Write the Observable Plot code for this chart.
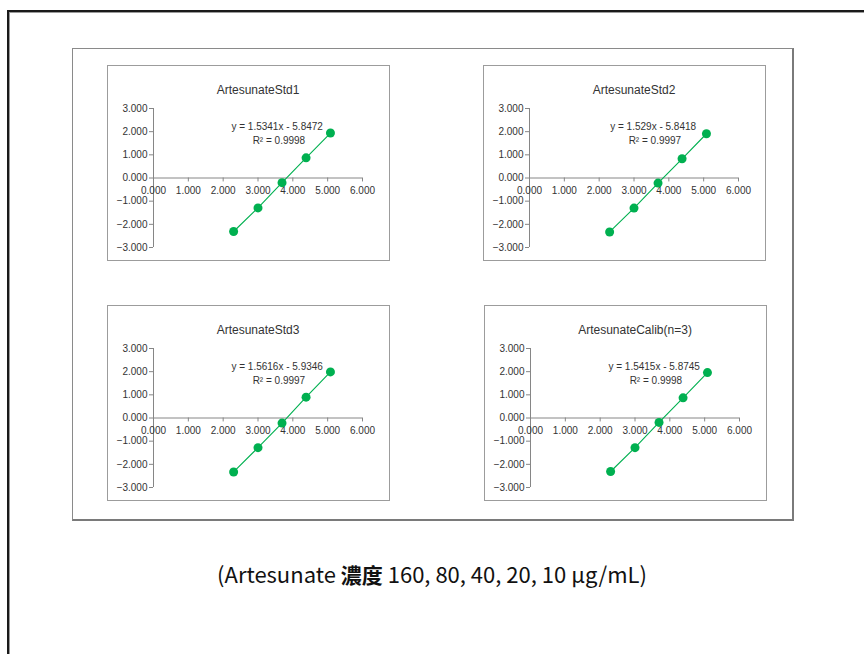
<!DOCTYPE html>
<html><head><meta charset="utf-8">
<script src="https://cdn.jsdelivr.net/npm/d3@7"></script>
<script src="https://cdn.jsdelivr.net/npm/@observablehq/plot@0.6"></script>
<style>
body{margin:0;background:#fff;width:864px;height:654px;overflow:hidden;position:relative;font-family:"Liberation Sans",Arial,sans-serif}
#frame{position:absolute;left:7px;top:10px;width:900px;height:700px;border-left:2px solid #1a1a1a;border-top:2px solid #1a1a1a;box-shadow:inset 1px 1px 0 #9a9a9a}
#group{position:absolute;left:72px;top:48px;width:719px;height:470px;border:1px solid #8a8a8a;border-right:2px solid #7a7a7a;border-bottom:2px solid #7a7a7a;background:#fff}
.panel{position:absolute;box-sizing:border-box;width:283px;height:196px;border:1px solid #9c9c9c;background:#fff}
.panel svg{display:block}
#caption{position:absolute;left:0;width:864px;top:557px;text-align:center;font-size:22px;color:#111;font-family:"Noto Sans CJK TC",sans-serif;white-space:nowrap}
#caption b{font-weight:700;font-size:21px}
</style></head>
<body>
<div id="frame"></div>
<div id="group"></div>
<div id="caption"></div>
<script>
// ---- data ----
const logConc = [2.30, 3.00, 3.69, 4.38, 5.08];
const titles = ["ArtesunateStd1", "ArtesunateStd2", "ArtesunateStd3", "ArtesunateCalib(n=3)"];
const std1Y = [-2.31, -1.29, -0.20, 0.87, 1.94];
const std2Y = [-2.33, -1.30, -0.22, 0.83, 1.91];
const std3Y = [-2.33, -1.28, -0.22, 0.90, 1.99];
const calibY = [-2.31, -1.28, -0.19, 0.87, 1.96];
const equations = ["y = 1.5341x - 5.8472", "y = 1.529x - 5.8418", "y = 1.5616x - 5.9346", "y = 1.5415x - 5.8745"];
const r2Labels = ["R² = 0.9998", "R² = 0.9997", "R² = 0.9997", "R² = 0.9998"];
const xTicks = [0, 1, 2, 3, 4, 5, 6];
const yTicks = [-3, -2, -1, 0, 1, 2, 3];
const captionLatin = "(Artesunate ";
const captionCJK = "濃度";
const captionRest = " 160, 80, 40, 20, 10 μg/mL)";

// ---- layout ----
const seriesY = [std1Y, std2Y, std3Y, calibY];
const panelPos = [[107, 65], [483, 65], [107, 305], [484, 305]];
const fmt = d3.format(".3f");
const green = "#00B050";
const axisGray = "#868686";
const textCol = "#333333";

seriesY.forEach((ys, i) => {
  const data = logConc.map((x, j) => ({x, y: ys[j]}));
  const div = document.createElement("div");
  div.className = "panel";
  div.style.left = panelPos[i][0] + "px";
  div.style.top = panelPos[i][1] + "px";
  const chart = Plot.plot({
    width: 281, height: 194,
    marginLeft: 45, marginRight: 27, marginTop: 42, marginBottom: 13,
    x: {domain: [0, 6], axis: null},
    y: {domain: [-3, 3], axis: null},
    style: {fontFamily: "'Liberation Sans', Arial, sans-serif", fontSize: "10px", color: textCol, background: "#fff"},
    marks: [
      Plot.ruleX([0], {stroke: axisGray, strokeWidth: 1}),
      Plot.ruleY([0], {stroke: axisGray, strokeWidth: 1}),
      Plot.axisY({ticks: yTicks, tickFormat: fmt, tickSize: 4, tickPadding: 2, stroke: axisGray, fill: textCol, label: null, fontSize: 10}),
      Plot.ruleX(xTicks, {x: d => d, y1: 0, y2: -0.17, stroke: axisGray}),
      Plot.text(xTicks, {x: d => d, y: 0, dy: 13, text: d => fmt(d), fill: textCol, fontSize: 10}),
      Plot.line(data, {x: "x", y: "y", stroke: green, strokeWidth: 1.1}),
      Plot.dot(data, {x: "x", y: "y", r: 4.5, fill: green, stroke: null}),
      Plot.text([titles[i]], {frameAnchor: "top", dy: -23, text: d => d, fontSize: 12, fill: "#333"}),
      Plot.text([equations[i]], {x: 3.55, y: 2.2, text: d => d, fontSize: 10, fill: "#333"}),
      Plot.text([r2Labels[i]], {x: 3.6, y: 1.62, text: d => d, fontSize: 10, fill: "#333"})
    ]
  });
  div.appendChild(chart);
  document.body.appendChild(div);
});

const cap = document.getElementById("caption");
cap.append(captionLatin);
const b = document.createElement("b");
b.textContent = captionCJK;
cap.append(b);
cap.append(captionRest);
</script>
</body></html>
